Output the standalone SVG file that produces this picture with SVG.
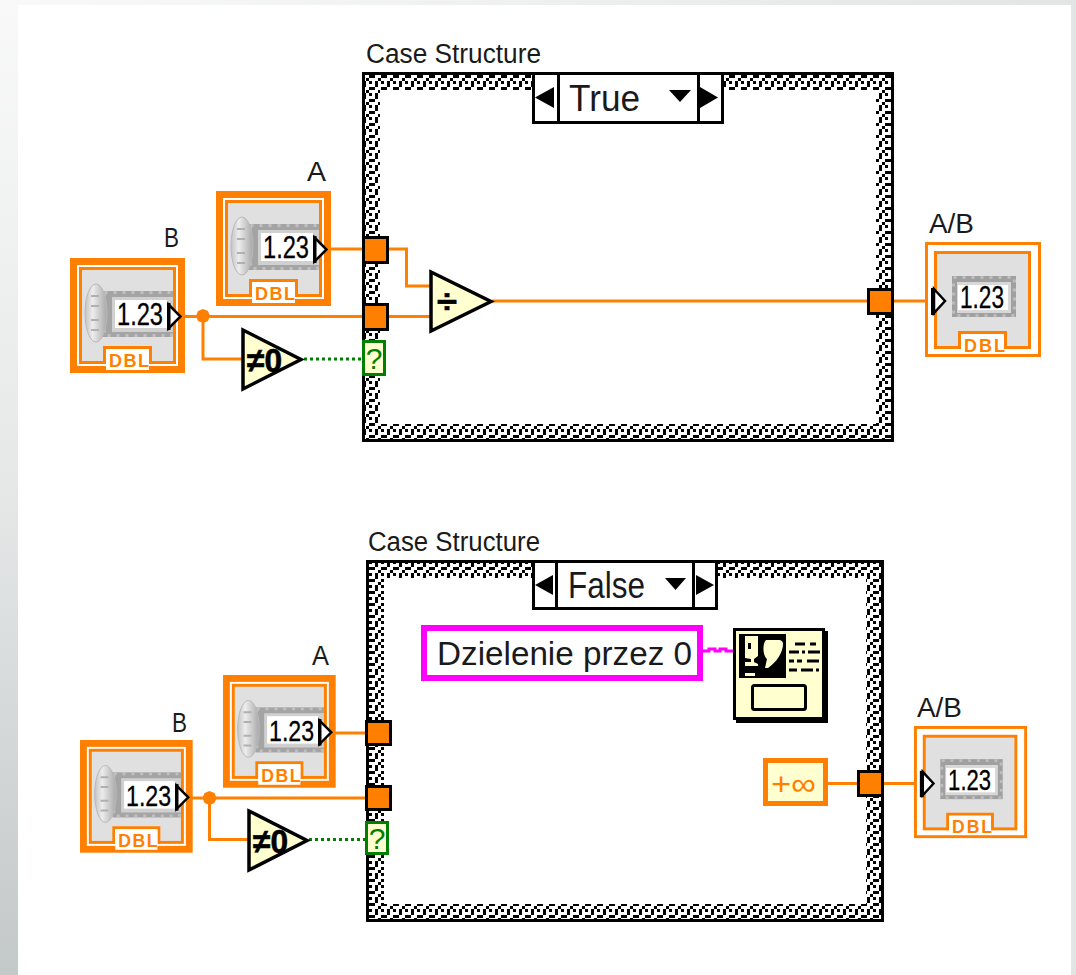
<svg xmlns="http://www.w3.org/2000/svg" xmlns:xlink="http://www.w3.org/1999/xlink" width="1076" height="975" viewBox="0 0 1076 975">
<style>
text{font-family:"Liberation Sans",Arial,sans-serif;fill:#1a1a1a}
.lbl{font-size:27px}
.sel{font-size:36px}
.num{font-size:31px;fill:#000;stroke:#000;stroke-width:.3}
.dbl{font-size:18px;font-weight:bold;fill:#ff8000}
.w{fill:none;stroke:#ff8000;stroke-width:3}
.b{fill:none;stroke:#007f00;stroke-width:3;stroke-dasharray:3 3}
.t{fill:#ff8000;stroke:#000;stroke-width:3}
.q{fill:#ffffd0;stroke:#007f00;stroke-width:3}
.qt{font-size:30px;fill:#007f00;text-anchor:middle}
.nd{fill:#ffffd0;stroke:#000;stroke-width:3.5}
.k{fill:#000}
.fr{fill:#000}
.selb{fill:#fff;stroke:#000;stroke-width:3}
.hole{fill:#fff}
.op{font-size:34px;font-weight:bold;fill:#000;stroke:#000;stroke-width:.6}
</style>
<defs>
<linearGradient id="sideL" x1="0" y1="0" x2="0" y2="1"><stop offset="0" stop-color="#f9f9f9"/><stop offset="0.5" stop-color="#e6e8e8"/><stop offset="1" stop-color="#c3c8c8"/></linearGradient>
<linearGradient id="sideT" x1="0" y1="0" x2="1" y2="0"><stop offset="0" stop-color="#f9f9f9"/><stop offset="1" stop-color="#e3e5e5"/></linearGradient>
<linearGradient id="knob" x1="0" y1="0" x2="1" y2="0"><stop offset="0" stop-color="#c4c4c4"/><stop offset="0.35" stop-color="#ececec"/><stop offset="1" stop-color="#a8a8a8"/></linearGradient>
<pattern id="chk" width="12" height="12" patternUnits="userSpaceOnUse">
<rect width="12" height="12" fill="#000"/>
<path fill="#fff" d="M0 0h3v3H0zM6 0h6v3H6zM3 3h3v3H3zM6 3h3v3H6zM0 6h6v3H0zM9 6h3v3H9zM0 9h3v3H0zM6 9h3v3H6z"/>
</pattern>
<g id="disp">
<rect x="0" y="0" width="64" height="41" fill="#a0a0a0"/>
<rect x="1.500" y="1.500" width="61" height="38" fill="none" stroke="#bdbdbd" stroke-width="3" stroke-dasharray="3 6"/>
<rect x="5" y="6" width="54" height="31" fill="#d8d8d8"/>
<rect x="6" y="9" width="50" height="25" fill="#fff"/>
<text class="num" x="8" y="32" textLength="44" lengthAdjust="spacingAndGlyphs">1.23</text>
</g>
<g id="ctrl">
<rect x="3.500" y="3.500" width="108" height="108" fill="#fff" stroke="#ff8000" stroke-width="7"/>
<rect x="10.500" y="10.500" width="94" height="94" fill="#e0e0e0" stroke="#ff8000" stroke-width="3"/>
<path d="M34.500 106V89.500H80.500V106" fill="#fff" stroke="#ff8000" stroke-width="3"/>
<rect x="36" y="91" width="43" height="21" fill="#fff"/>
<text class="dbl" x="39" y="109" textLength="40">DBL</text>
<rect x="33" y="33" width="70" height="46" fill="#a4a4a4"/>
<rect x="34.500" y="34.500" width="67" height="43" fill="none" stroke="#c0c0c0" stroke-width="3" stroke-dasharray="3 6"/>
<ellipse cx="26" cy="55" rx="11" ry="29" fill="url(#knob)" stroke="#b8b8b8" stroke-width="1"/>
<path d="M21 38h8M21 48h8M21 62h8M21 72h8" stroke="#b0b0b0" stroke-width="2"/>
<rect x="42" y="39" width="61" height="35" fill="#d0d0d0"/>
<rect x="45" y="42" width="52" height="28" fill="#fff"/>
<text class="num" x="47" y="67" textLength="46" lengthAdjust="spacingAndGlyphs">1.23</text>
<polygon points="98.500,46.500 110.500,58.500 98.500,70.500" fill="#fff" stroke="#000" stroke-width="2.500"/>
<rect x="97" y="45" width="3.500" height="27" fill="#000"/>
</g>
<g id="ind">
<rect x="1.500" y="1.500" width="113" height="112" fill="#fff" stroke="#ff8000" stroke-width="3"/>
<rect x="10.500" y="10.500" width="94" height="95" fill="#e0e0e0" stroke="#ff8000" stroke-width="3"/>
<path d="M34.500 107V90.500H80.500V107" fill="#fff" stroke="#ff8000" stroke-width="3"/>
<rect x="36" y="92" width="43" height="18" fill="#fff"/>
<text class="dbl" x="39" y="110" textLength="41">DBL</text>
<use xlink:href="#disp" href="#disp" x="27" y="34"/>
<polygon points="9,47 20,59 9,71" fill="#fff" stroke="#000" stroke-width="2.500"/>
<rect x="6" y="46" width="4" height="27" fill="#000"/>
</g>
<g id="ne">
<polygon points="2,2 2,61 60,31.500" class="nd"/>
<text class="op" x="6" y="44" textLength="35" lengthAdjust="spacingAndGlyphs">≠0</text>
</g>
</defs>

<rect width="1076" height="975" fill="#fff"/>
<rect x="0" y="0" width="18" height="975" fill="url(#sideL)"/>
<rect x="0" y="0" width="1076" height="5" fill="url(#sideT)"/>
<rect x="1071" y="0" width="5" height="975" fill="#e3e5e5"/>

<g id="case-true">
<text class="lbl" x="366" y="63" textLength="175" lengthAdjust="spacingAndGlyphs">Case Structure</text>
<rect class="fr" x="362" y="72" width="532" height="370"/>
<rect x="365" y="75" width="526" height="364" fill="url(#chk)"/>
<rect class="hole" x="380" y="90" width="496" height="334"/>
<g id="selector-true">
<rect class="selb" x="533.500" y="73.500" width="189" height="49"/>
<path d="M558.500 73V123M698.500 73V123" stroke="#000" stroke-width="3"/>
<polygon class="k" points="535,97.500 554,87 554,108"/>
<polygon class="k" points="718,97.500 700,87 700,108"/>
<polygon class="k" points="669,90 691,90 680,102"/>
<text class="sel" x="569" y="111" textLength="71" lengthAdjust="spacingAndGlyphs">True</text>
</g>
</g>

<g id="case-false">
<text class="lbl" x="368" y="551" textLength="172" lengthAdjust="spacingAndGlyphs">Case Structure</text>
<rect class="fr" x="366" y="560" width="518" height="362"/>
<rect x="369" y="563" width="512" height="356" fill="url(#chk)"/>
<rect class="hole" x="384" y="578" width="482" height="326"/>
<g id="selector-false">
<rect class="selb" x="533.500" y="561.500" width="183" height="47"/>
<path d="M556.500 561V609M693.500 561V609" stroke="#000" stroke-width="3"/>
<polygon class="k" points="535,585 553,575 553,595"/>
<polygon class="k" points="714,585 696,575 696,595"/>
<polygon class="k" points="665,578 686,578 675.500,590"/>
<text class="sel" x="568" y="598" textLength="77" lengthAdjust="spacingAndGlyphs">False</text>
</g>
</g>

<g id="connectors">
<path class="w" d="M328 249H364M389 249H406.500V286H430"/>
<path class="w" d="M182 316.500H364M389 316.500H430"/>
<path class="w" d="M203 316V359H242"/>
<path class="b" d="M304 359H362"/>
<path class="w" d="M492 301H868M894 301H932"/>
<path class="w" d="M333 733H366"/>
<path class="w" d="M190 798H366"/>
<path class="w" d="M209.500 798V839.500H248"/>
<path class="b" d="M309 839.500H366"/>
<path class="w" d="M828 783.500H858M884 783.500H918"/>
<path d="M703 651H709V649H715V651H720V649H726V651H733" fill="none" stroke="#ff00ff" stroke-width="3"/>
<polygon points="203,309 208,311 210,316 208,321 203,323 198,321 196,316 198,311" fill="#ff8000"/>
<polygon points="209.500,791 214.500,793 216.500,798 214.500,803 209.500,805 204.500,803 202.500,798 204.500,793" fill="#ff8000"/>
</g>

<g id="A-true"><text class="lbl" x="307" y="181" textLength="19" lengthAdjust="spacingAndGlyphs">A</text><use xlink:href="#ctrl" href="#ctrl" x="216" y="191"/></g>
<g id="B-true"><text class="lbl" x="164" y="247" textLength="15" lengthAdjust="spacingAndGlyphs">B</text><use xlink:href="#ctrl" href="#ctrl" x="70" y="258"/></g>
<g id="tunnel-a-true"><rect class="t" x="363.500" y="237.500" width="24" height="25"/></g>
<g id="tunnel-b-true"><rect class="t" x="363.500" y="304.500" width="24" height="25"/></g>
<g id="selector-term-true"><rect class="q" x="363.500" y="341.500" width="21" height="33"/><text class="qt" x="374" y="369">?</text></g>
<g id="not-zero-true"><use xlink:href="#ne" href="#ne" x="241" y="328"/></g>
<g id="divide"><polygon class="nd" points="431,272 431,331 491,301.500"/><text class="op" x="437" y="313" textLength="20" lengthAdjust="spacingAndGlyphs">÷</text></g>
<g id="tunnel-out-true"><rect class="t" x="868.500" y="289.500" width="24" height="24"/></g>
<g id="AB-true"><text class="lbl" x="929" y="233" textLength="45" lengthAdjust="spacingAndGlyphs">A/B</text><use xlink:href="#ind" href="#ind" x="925" y="242"/></g>

<g id="A-false"><text class="lbl" x="312" y="665" textLength="17" lengthAdjust="spacingAndGlyphs">A</text><use xlink:href="#ctrl" href="#ctrl" transform="translate(223 675) scale(.98)"/></g>
<g id="B-false"><text class="lbl" x="172" y="732" textLength="15" lengthAdjust="spacingAndGlyphs">B</text><use xlink:href="#ctrl" href="#ctrl" transform="translate(80 740) scale(.98)"/></g>
<g id="tunnel-a-false"><rect class="t" x="366.500" y="721.500" width="24" height="23"/></g>
<g id="tunnel-b-false"><rect class="t" x="366.500" y="786.500" width="24" height="23"/></g>
<g id="selector-term-false"><rect class="q" x="366.500" y="822.500" width="21" height="31"/><text class="qt" x="377" y="849">?</text></g>
<g id="not-zero-false"><use xlink:href="#ne" href="#ne" x="247" y="809"/></g>
<g id="string-const"><rect x="424" y="628" width="276" height="50" fill="#fff" stroke="#ff00ff" stroke-width="6"/><text x="437" y="665" font-size="33" textLength="255" lengthAdjust="spacingAndGlyphs">Dzielenie przez 0</text></g>
<g id="dialog">
<rect x="736" y="631" width="92" height="92" fill="#000"/>
<rect x="734.500" y="629.500" width="89" height="89" fill="#ffffd0" stroke="#000" stroke-width="3"/>
<rect x="739" y="634" width="47" height="44" fill="#000"/>
<path fill-rule="evenodd" d="M745 636h13v20l-4 3v3l4 2v2h-13v-4h6v-3l-6-1zM748 643v6h3v-6zM745 673h10v3h-10zM766 640h12c4 0 5 2 5 4c0 8-6 18-15 24h-3l2-9c-4-3-5-15-1-19z" fill="#ffffd0"/>
<path d="M795 644h10M810 644h6M789 652h10M802 652h3M808 652h12M789 661h5M797 661h5M807 661h12M789 670h8M801 670h12M816 670h3" stroke="#000" stroke-width="3" fill="none"/>
<rect x="752.500" y="685.500" width="53" height="24" rx="2" fill="#ffffd0" stroke="#000" stroke-width="3"/>
</g>
<g id="inf-const"><rect x="765.500" y="760.500" width="60" height="43" fill="#ffffd0" stroke="#ff8000" stroke-width="5"/><text x="771" y="795" font-size="32" style="fill:#ff8000" textLength="45" lengthAdjust="spacingAndGlyphs">+∞</text></g>
<g id="tunnel-out-false"><rect class="t" x="858.500" y="771.500" width="24" height="24"/></g>
<g id="AB-false"><text class="lbl" x="917" y="717" textLength="45" lengthAdjust="spacingAndGlyphs">A/B</text><use xlink:href="#ind" href="#ind" transform="translate(914 726) scale(.975)"/></g>
</svg>
